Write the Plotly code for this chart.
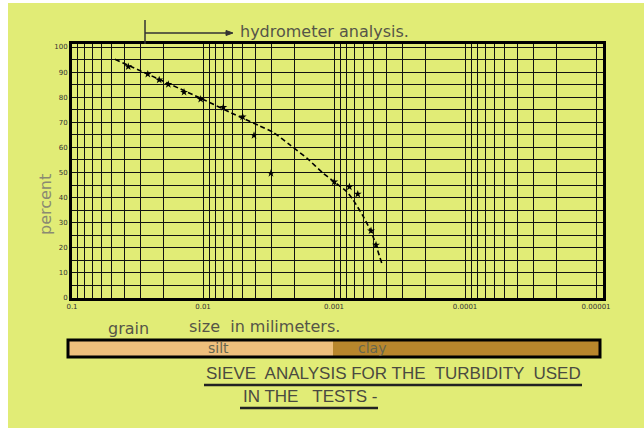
import plotly.graph_objects as go

# ---- data ----
grain_mm = [0.0372, 0.0264, 0.0216, 0.0184, 0.01396, 0.01042, 0.0070, 0.00498,
            0.00408, 0.00303, 0.000996, 0.000763, 0.000659, 0.000522, 0.000478]
percent_finer = [92.2, 89.2, 86.9, 85.1, 82.0, 79.2, 76.0, 72.2,
                 64.8, 49.7, 46.3, 44.3, 41.4, 26.8, 21.1]

curve_mm = [0.047, 0.01054, 0.00522, 0.00367, 0.00290, 0.00217, 0.00161, 0.00121,
            0.000996, 0.000800, 0.000713, 0.000597, 0.000515, 0.000432]
curve_pct = [95.1, 79.7, 72.1, 68.5, 65.9, 61.0, 55.7, 49.7,
             46.3, 42.4, 39.0, 32.4, 25.8, 13.8]

x_tick_vals = [0.1, 0.01, 0.001, 0.0001, 0.00001]
x_tick_text = ["0.1", "0.01", "0.001", "0.0001", "0.00001"]
y_tick_vals = [0, 10, 20, 30, 40, 50, 60, 70, 80, 90, 100]
y_tick_text = ["0", "10", "20", "30", "40", "50", "60", "70", "80", "90", "100"]

W, H = 644, 428
L, R, T, B = 72, 603, 44, 298


def px(x):
    return (x - L) / (R - L)


def py(y):
    return (B - y) / (B - T)


# log-paper grid lines: 1..9 per decade
grid_vals, grid_text = [], []
for e in [-5, -4, -3, -2]:
    for m in range(1, 10):
        v = m * 10 ** e
        grid_vals.append(v)
        grid_text.append(x_tick_text[x_tick_vals.index(v)] if m == 1 and v in x_tick_vals else "")
grid_vals.append(0.1)
grid_text.append("0.1")

fig = go.Figure()
fig.add_trace(go.Scatter(x=curve_mm, y=curve_pct, mode="lines",
                         line=dict(color="black", width=1.6, dash="5px,3px",
                                   shape="spline", smoothing=0.6),
                         hoverinfo="skip", showlegend=False))
fig.add_trace(go.Scatter(x=grain_mm, y=percent_finer, mode="markers",
                         marker=dict(symbol="star", size=6, color="black"),
                         showlegend=False))

yellow = "#E1EC76"
shapes = [
    dict(type="rect", xref="paper", yref="paper", x0=px(8), x1=px(W), y0=py(428), y1=py(3),
         fillcolor=yellow, line=dict(width=0), layer="below"),
    # hydrometer arrow
    dict(type="line", xref="paper", yref="paper", x0=px(145), x1=px(145), y0=py(20), y1=py(44),
         line=dict(color="#333", width=1.5)),
    dict(type="line", xref="paper", yref="paper", x0=px(145), x1=px(228), y0=py(33), y1=py(33),
         line=dict(color="#333", width=1.5)),
    dict(type="path", xref="paper", yref="paper",
         path=f"M {px(226)} {py(30.5)} L {px(233)} {py(33)} L {px(226)} {py(35.5)} Z",
         fillcolor="#333", line=dict(color="#333", width=1)),
    # silt / clay bar
    dict(type="rect", xref="paper", yref="paper", x0=px(68), x1=px(333), y0=py(357), y1=py(340),
         fillcolor="#EEBF7C", line=dict(width=0)),
    dict(type="rect", xref="paper", yref="paper", x0=px(333), x1=px(600), y0=py(357), y1=py(340),
         fillcolor="#B8862C", line=dict(width=0)),
    dict(type="rect", xref="paper", yref="paper", x0=px(68), x1=px(600), y0=py(357), y1=py(340),
         fillcolor="rgba(0,0,0,0)", line=dict(color="black", width=3)),
    # underlines
    dict(type="line", xref="paper", yref="paper", x0=px(204), x1=px(582), y0=py(385), y1=py(385),
         line=dict(color="#222", width=2.5)),
    dict(type="line", xref="paper", yref="paper", x0=px(240), x1=px(378), y0=py(408), y1=py(408),
         line=dict(color="#222", width=2.5)),
]

font_hand = "DejaVu Sans"
ann = [
    dict(text="hydrometer analysis.", x=px(238), y=py(31), xanchor="left", yanchor="middle",
         font=dict(size=16, color="#555548", family=font_hand)),
    dict(text="percent", x=px(45), y=py(205), textangle=-90, xanchor="center", yanchor="middle",
         font=dict(size=16, color="#8a8a72", family=font_hand)),
    dict(text="grain", x=px(128), y=py(328), xanchor="center", yanchor="middle",
         font=dict(size=16, color="#555548", family=font_hand)),
    dict(text="size  in milimeters.", x=px(187), y=py(326), xanchor="left", yanchor="middle",
         font=dict(size=16, color="#555548", family=font_hand)),
    dict(text="silt", x=px(218), y=py(348), xanchor="center", yanchor="middle",
         font=dict(size=14, color="#66664f", family=font_hand)),
    dict(text="clay", x=px(372), y=py(348), xanchor="center", yanchor="middle",
         font=dict(size=14, color="#66664f", family=font_hand)),
    dict(text="SIEVE  ANALYSIS FOR THE  TURBIDITY  USED", x=px(393), y=py(373),
         xanchor="center", yanchor="middle",
         font=dict(size=17, color="#4a4a40", family="Liberation Sans Narrow, Liberation Sans")),
    dict(text="IN THE   TESTS -", x=px(310), y=py(396), xanchor="center", yanchor="middle",
         font=dict(size=17, color="#4a4a40", family="Liberation Sans Narrow, Liberation Sans")),
]
for a in ann:
    a.update(xref="paper", yref="paper", showarrow=False)

fig.update_layout(
    width=W, height=H,
    margin=dict(l=L, r=W - R, t=T, b=H - B),
    paper_bgcolor="white", plot_bgcolor="white",
    shapes=shapes, annotations=ann,
    xaxis=dict(type="log", range=[-1, -5.053], tickmode="array",
               tickvals=grid_vals, ticktext=grid_text,
               showgrid=True, gridcolor="#111", gridwidth=1.4,
               showline=True, mirror=True, linecolor="black", linewidth=3,
               ticks="", zeroline=False,
               tickfont=dict(size=7, color="#333", family="DejaVu Sans")),
    yaxis=dict(range=[0, 101.2], tickmode="array", tickvals=y_tick_vals, ticktext=y_tick_text,
               showgrid=True, gridcolor="#111", gridwidth=1.4,
               minor=dict(dtick=5, showgrid=True, gridcolor="#111", gridwidth=1.4),
               showline=True, mirror=True, linecolor="black", linewidth=3,
               ticks="", zeroline=False,
               tickfont=dict(size=7, color="#333", family="DejaVu Sans")),
)

fig.write_html("out.html")
